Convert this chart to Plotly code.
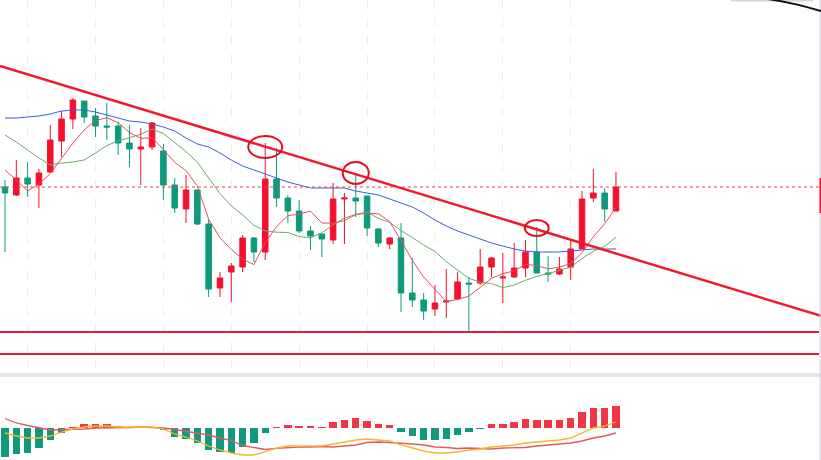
import plotly.graph_objects as go

# ---------------- data ----------------
idx = list(range(55))

opens = [31.3, 30.5, 32.2, 31.5, 32.8, 35.9, 38.1, 39.9, 38.4, 37.4,
         37.4, 35.7, 35.1, 35.3, 34.9, 31.5, 29.1, 31.0, 27.6, 21.2,
         22.8, 23.3, 26.2, 24.8, 32.1, 30.2, 28.9, 26.9, 26.6, 26.0,
         30.1, 30.2, 30.4, 27.1, 25.6, 26.2, 20.7, 20.0, 19.1, 19.8,
         20.1, 21.7, 21.7, 23.3, 22.2, 22.3, 23.2, 24.8, 22.7, 22.6,
         23.3, 25.1, 30.2, 30.7, 28.9]
highs = [32.0, 34.0, 33.8, 33.1, 37.5, 38.9, 40.2, 39.9, 39.2, 39.7,
         37.8, 37.5, 37.2, 37.8, 35.6, 32.2, 32.5, 31.0, 28.0, 22.8,
         23.7, 26.5, 26.3, 35.7, 35.2, 30.5, 30.0, 27.4, 26.6, 31.7,
         30.7, 32.7, 30.4, 27.2, 26.3, 27.7, 24.2, 20.7, 21.5, 23.1,
         22.8, 22.3, 25.1, 24.3, 24.7, 25.7, 26.0, 27.3, 24.4, 24.3,
         26.0, 30.9, 33.1, 31.2, 32.8]
lows = [24.8, 30.4, 30.3, 29.2, 32.7, 34.3, 37.1, 37.7, 36.3, 36.0,
        34.5, 33.3, 31.5, 35.0, 30.0, 28.7, 27.7, 27.5, 20.3, 20.3,
        19.8, 22.8, 23.8, 24.0, 29.3, 27.7, 26.7, 25.0, 24.3, 25.6,
        25.6, 28.3, 26.4, 25.3, 25.1, 18.8, 19.3, 18.0, 18.4, 18.2,
        20.0, 16.8, 21.5, 22.3, 19.7, 22.2, 22.3, 22.7, 21.8, 22.5,
        22.0, 25.1, 29.8, 27.8, 28.9]
closes = [30.7, 32.2, 31.6, 32.7, 36.0, 38.1, 40.0, 38.3, 37.4, 37.3,
          35.7, 35.1, 35.3, 37.7, 31.5, 29.2, 31.0, 27.6, 21.1, 22.2,
          23.4, 26.2, 24.8, 32.1, 30.2, 28.9, 26.9, 26.4, 26.1, 30.1,
          30.2, 29.9, 27.2, 25.7, 26.2, 20.7, 20.0, 18.9, 19.7, 19.9,
          21.8, 21.6, 23.3, 24.2, 22.3, 23.2, 24.8, 22.7, 22.6, 23.1,
          25.1, 30.1, 30.7, 29.1, 31.3]

ma5 = [33.0, 32.0, 30.9, 31.6, 32.64, 34.12, 35.68, 37.02, 37.96, 38.22,
       37.74, 36.76, 36.16, 36.22, 35.06, 33.76, 32.94, 31.4, 28.08, 26.22,
       25.06, 24.1, 23.54, 25.74, 27.34, 28.44, 28.58, 28.9, 27.7, 27.68,
       27.94, 28.54, 28.7, 28.62, 27.84, 25.94, 23.96, 22.3, 21.1, 19.84,
       20.06, 20.38, 21.26, 22.16, 22.64, 22.92, 23.56, 23.44, 23.12, 23.28,
       23.66, 24.72, 26.32, 27.62, 29.26]
ma10 = [36.5, 35.8, 35.0, 34.2, 33.5, 33.7, 33.8, 34.0, 34.7, 35.43,
        35.93, 36.22, 36.59, 37.09, 36.64, 35.75, 34.85, 33.78, 32.15, 30.64,
        29.41, 28.52, 27.47, 26.91, 26.78, 26.75, 26.34, 26.22, 26.72, 27.51,
        28.19, 28.56, 28.8, 28.16, 27.76, 26.94, 26.25, 25.5, 24.86, 23.84,
        23.0, 22.17, 21.78, 21.63, 21.24, 21.49, 21.97, 22.35, 22.64, 22.96,
        23.29, 24.14, 24.88, 25.37, 26.27]
ma30 = [38.2, 38.2, 38.3, 38.4, 38.6, 38.9, 39.0, 39.0, 38.8, 38.5,
        38.2, 37.9, 37.8, 37.6, 37.3, 36.9, 36.2, 35.6, 35.3, 34.7,
        34.0, 33.4, 33.0, 32.6, 32.2, 31.8, 31.5, 31.2, 31.2, 31.2,
        31.2, 30.9, 30.7, 30.5, 30.1, 29.7, 29.3, 28.7, 28.0, 27.4,
        26.9, 26.5, 26.1, 25.7, 25.4, 25.1, 24.9, 24.8, 24.8, 24.8,
        24.9, 25.0, 25.1, 25.1, 25.1]

macd_hist = [-0.29, -0.26, -0.25, -0.20, -0.12, -0.05, 0.01, 0.04, 0.04, 0.04,
             0.02, 0.01, 0.005, 0.01, -0.02, -0.09, -0.11, -0.15, -0.22, -0.24,
             -0.25, -0.19, -0.15, -0.05, 0.007, 0.03, 0.02, 0.02, 0.01, 0.06,
             0.08, 0.10, 0.07, 0.04, 0.03, -0.04, -0.08, -0.12, -0.12, -0.11,
             -0.07, -0.04, -0.007, 0.04, 0.04, 0.06, 0.09, 0.08, 0.08, 0.08,
             0.10, 0.16, 0.20, 0.20, 0.22]
dif = [-0.05, -0.08, -0.10, -0.10, -0.08, -0.04, -0.01, 0.01, 0.02, 0.02,
       0.01, 0.01, 0.01, 0.01, -0.01, -0.06, -0.09, -0.13, -0.18, -0.22,
       -0.25, -0.27, -0.27, -0.24, -0.20, -0.18, -0.18, -0.18, -0.18, -0.16,
       -0.14, -0.12, -0.11, -0.12, -0.13, -0.17, -0.20, -0.23, -0.25, -0.25,
       -0.24, -0.22, -0.21, -0.19, -0.18, -0.17, -0.15, -0.14, -0.13, -0.12,
       -0.10, -0.05, 0.00, 0.02, 0.06]
dea = [0.095, 0.05, 0.025, 0.0, -0.02, -0.015, -0.015, -0.01, 0.0, 0.0,
       0.0, 0.005, 0.01, 0.005, 0.0, -0.015, -0.035, -0.055, -0.07, -0.10,
       -0.125, -0.175, -0.195, -0.215, -0.203, -0.195, -0.19, -0.19, -0.185, -0.19,
       -0.18, -0.17, -0.145, -0.14, -0.145, -0.15, -0.16, -0.17, -0.19, -0.195,
       -0.205, -0.20, -0.207, -0.21, -0.20, -0.20, -0.195, -0.18, -0.17, -0.16,
       -0.15, -0.13, -0.10, -0.08, -0.05]

# drawings on the chart
trend_idx = [0, 54]
trend_price = [43.25, 24.65]
support_prices = [16.8, 14.6]
marked_idx = [23, 31, 47]
marked_price = [35.3, 32.7, 27.2]
grid_idx = [2, 8, 14, 20, 26, 32, 38, 44, 50]

# ---------------- styling ----------------
W, H = 821, 460
RED = "#f5102e"
GREEN = "#0d9a7d"
X_RANGE = [-0.442, 72.12]
MAIN_TOP_PX, MAIN_BOT_PX = 0, 373
SUB_TOP_PX = 377
ell_rx = [1.5, 1.15, 1.06]
ell_ry = [1.1, 1.1, 0.8]

def py(px):
    return 1 - px / H

def pxx(px):
    return px / W

fig = go.Figure()

fig.add_trace(go.Candlestick(
    x=idx, open=opens, high=highs, low=lows, close=closes,
    increasing=dict(line=dict(color=RED, width=1), fillcolor=RED),
    decreasing=dict(line=dict(color=GREEN, width=1), fillcolor=GREEN),
    whiskerwidth=0, showlegend=False, xaxis="x", yaxis="y", hoverinfo="skip"))

for series, col in [(ma30, "#3c5fd0"), (ma10, "#6aab6a"), (ma5, "#e8505c")]:
    fig.add_trace(go.Scatter(x=idx, y=series, mode="lines",
                             line=dict(color=col, width=1),
                             showlegend=False, xaxis="x", yaxis="y", hoverinfo="skip"))

bar_cols = ["#f23645" if v >= 0 else "#0f9a80" for v in macd_hist]
fig.add_trace(go.Bar(x=idx, y=macd_hist, marker=dict(color=bar_cols, line=dict(width=0)),
                     width=0.66, showlegend=False, xaxis="x2", yaxis="y2", hoverinfo="skip"))
fig.add_trace(go.Scatter(x=idx, y=dea, mode="lines", line=dict(color="#e8555e", width=1.3),
                         showlegend=False, xaxis="x2", yaxis="y2", hoverinfo="skip"))
fig.add_trace(go.Scatter(x=idx, y=dif, mode="lines", line=dict(color="#f7b52c", width=1.3),
                         showlegend=False, xaxis="x2", yaxis="y2", hoverinfo="skip"))

shapes = []
# trend line extended across the plot
slope = (trend_price[1] - trend_price[0]) / (trend_idx[1] - trend_idx[0])
tx0, tx1 = X_RANGE
shapes.append(dict(type="line", xref="x", yref="y",
                   x0=tx0, y0=trend_price[0] + slope * (tx0 - trend_idx[0]),
                   x1=tx1, y1=trend_price[0] + slope * (tx1 - trend_idx[0]),
                   line=dict(color="#ee1a2e", width=2.5)))
for sp in support_prices:
    shapes.append(dict(type="line", xref="paper", yref="y", x0=0, x1=pxx(819), y0=sp, y1=sp,
                       line=dict(color="#ee1a2e", width=2)))
# last price dotted line
shapes.append(dict(type="line", xref="paper", yref="y", x0=0, x1=pxx(819),
                   y0=closes[-1], y1=closes[-1],
                   line=dict(color="#e8404f", width=1, dash="dot")))
for i, (cx, cy) in enumerate(zip(marked_idx, marked_price)):
    shapes.append(dict(type="circle", xref="x", yref="y",
                       x0=cx - ell_rx[i], x1=cx + ell_rx[i],
                       y0=cy - ell_ry[i], y1=cy + ell_ry[i],
                       line=dict(color="#e0101e", width=2)))
# pane separator
shapes.append(dict(type="rect", xref="paper", yref="paper", x0=0, x1=pxx(820),
                   y0=py(377), y1=py(373), fillcolor="#e6e7ee", line=dict(width=0), layer="below"))
# right border
shapes.append(dict(type="line", xref="paper", yref="paper", x0=pxx(820), x1=pxx(820),
                   y0=0, y1=1, line=dict(color="#cfd1d8", width=1)))
# cut-off price label at right edge
shapes.append(dict(type="rect", xref="paper", yref="paper", x0=pxx(819.5), x1=1,
                   y0=py(213), y1=py(178), fillcolor=RED, line=dict(width=0)))
# top-right fragments
shapes.append(dict(type="rect", xref="paper", yref="paper", x0=pxx(731), x1=pxx(813),
                   y0=py(1.5), y1=1, fillcolor="#d8d8d8", line=dict(width=0)))
shapes.append(dict(type="path", xref="paper", yref="paper",
                   path=f"M {pxx(768)} {py(-1)} Q {pxx(795)} {py(3)} {pxx(821)} {py(11)}",
                   line=dict(color="#111111", width=2)))

fig.update_layout(
    width=W, height=H,
    margin=dict(l=0, r=0, t=0, b=0),
    paper_bgcolor="white", plot_bgcolor="white",
    showlegend=False,
    bargap=0,
    shapes=shapes,
    xaxis=dict(domain=[0, 1], range=X_RANGE, anchor="y", tickvals=grid_idx,
               showticklabels=False, ticks="", showgrid=True, gridcolor="#eceef2",
               griddash="dash", gridwidth=1, zeroline=False, showline=False,
               rangeslider=dict(visible=False), fixedrange=True),
    yaxis=dict(domain=[py(MAIN_BOT_PX), py(MAIN_TOP_PX)], range=[50 - MAIN_BOT_PX / 10, 50],
               showgrid=False, showticklabels=False, zeroline=False, showline=False, ticks=""),
    xaxis2=dict(domain=[0, 1], range=X_RANGE, anchor="y2", showgrid=False,
                showticklabels=False, zeroline=False, showline=False, ticks=""),
    yaxis2=dict(domain=[0, py(SUB_TOP_PX)], range=[-0.32, 0.51], showgrid=False,
                showticklabels=False, zeroline=False, showline=False, ticks=""),
)

fig.write_html("out.html")
